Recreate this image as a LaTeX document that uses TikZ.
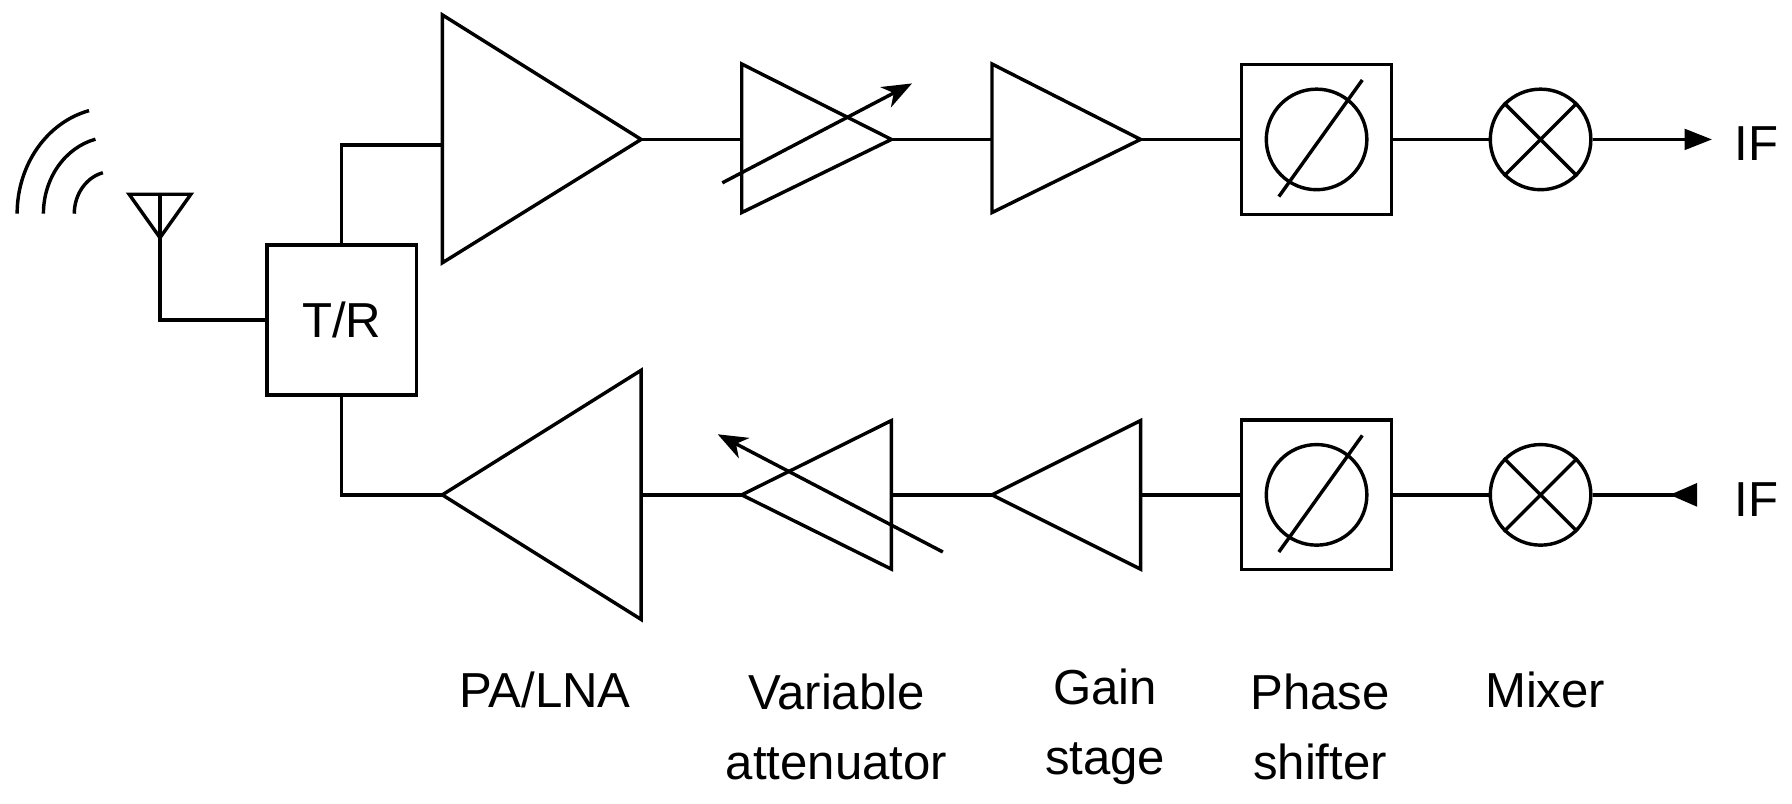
\documentclass[tikz,border=0pt]{standalone}
\usepackage{fontspec}
\setmainfont{Liberation Sans}
\usetikzlibrary{arrows.meta}
\begin{document}
\begin{tikzpicture}[x=1pt,y=-1pt,line width=3pt,line join=miter,
  lbl/.style={font=\fontsize{43}{62}\selectfont,align=center},
  sq/.style={draw,minimum size=131pt,inner sep=0pt},
  circ/.style={draw,circle,minimum size=88pt,inner sep=0pt}]
\useasboundingbox (0,0) rectangle (1568,703);
% waves
\foreach \r in {33,60,83}
  \draw (98,187) ++(180:\r) arc[start angle=180,end angle=256,x radius=\r,y radius=1.12*\r];
% antenna
\draw (113,170) -- (167,170) -- (140,208) -- cycle;
\coordinate (ant) at (140,170);
\node[sq,font=\fontsize{43}{45}\selectfont] (tr) at (299,280) {T/R};
\draw (ant) |- (tr.west);
% top chain
\draw (387,13) -- (387,230) -- (561,122) -- cycle;
\coordinate (pa) at (387,127); \coordinate (paout) at (561,122);
\draw (tr.north) |- (pa);
\draw (649,56) -- (649,186) -- (780,122) -- cycle;
\coordinate (at1) at (649,122); \coordinate (at1o) at (780,122);
\draw[-{Stealth[length=26pt,width=20pt,inset=8pt]}] (632,160) -- (798,73);
\draw (868,56) -- (868,186) -- (998,122) -- cycle;
\coordinate (g1) at (868,122); \coordinate (g1o) at (998,122);
\node[sq] (ps1) at (1152,122) {};
\draw (ps1.center) circle (44);
\draw (1119,172) -- (1192,70);
\node[circ] (m1) at (1348,122) {};
\draw (m1.45) -- (m1.225) (m1.135) -- (m1.315);
\coordinate (if1) at (1498,122);
\node[lbl,anchor=west] (IF1) at (1513,126) {IF};
\draw (paout) -- (at1) (at1o) -- (g1) (g1o) -- (ps1.west) (ps1.east) -- (m1.west);
\draw[-{Triangle[length=24pt,width=18pt]}] (m1.east) -- (if1);
% bottom chain
\draw (387,433) -- (561,324) -- (561,542) -- cycle;
\coordinate (lna) at (387,433); \coordinate (lnaout) at (561,433);
\draw (tr.south) |- (lna);
\draw (649,433) -- (780,368) -- (780,498) -- cycle;
\coordinate (at2) at (649,433); \coordinate (at2o) at (780,433);
\draw[-{Stealth[length=26pt,width=20pt,inset=8pt]}] (825,483) -- (628,380);
\draw (868,433) -- (998,368) -- (998,498) -- cycle;
\coordinate (g2) at (868,433); \coordinate (g2o) at (998,433);
\node[sq] (ps2) at (1152,433) {};
\draw (ps2.center) circle (44);
\draw (1119,483) -- (1192,381);
\node[circ] (m2) at (1348,433) {};
\draw (m2.45) -- (m2.225) (m2.135) -- (m2.315);
\coordinate (if2) at (1485,433);
\node[lbl,anchor=west] (IF2) at (1513,437) {IF};
\draw (lnaout) -- (at2) (at2o) -- (g2) (g2o) -- (ps2.west) (ps2.east) -- (m2.west);
\draw[-{Triangle[reversed,length=24pt,width=20pt]}] (m2.east) -- (if2);
% labels
\node[lbl] (l1) at (477,604) {PA/LNA};
\node[lbl] (l2) at (732,636) {Variable\\attenuator};
\node[lbl] (l3) at (967,636) {Gain\\stage};
\node[lbl] (l4) at (1155,636) {Phase\\shifter};
\node[lbl] (l5) at (1352,604) {Mixer};
\end{tikzpicture}
\end{document}
